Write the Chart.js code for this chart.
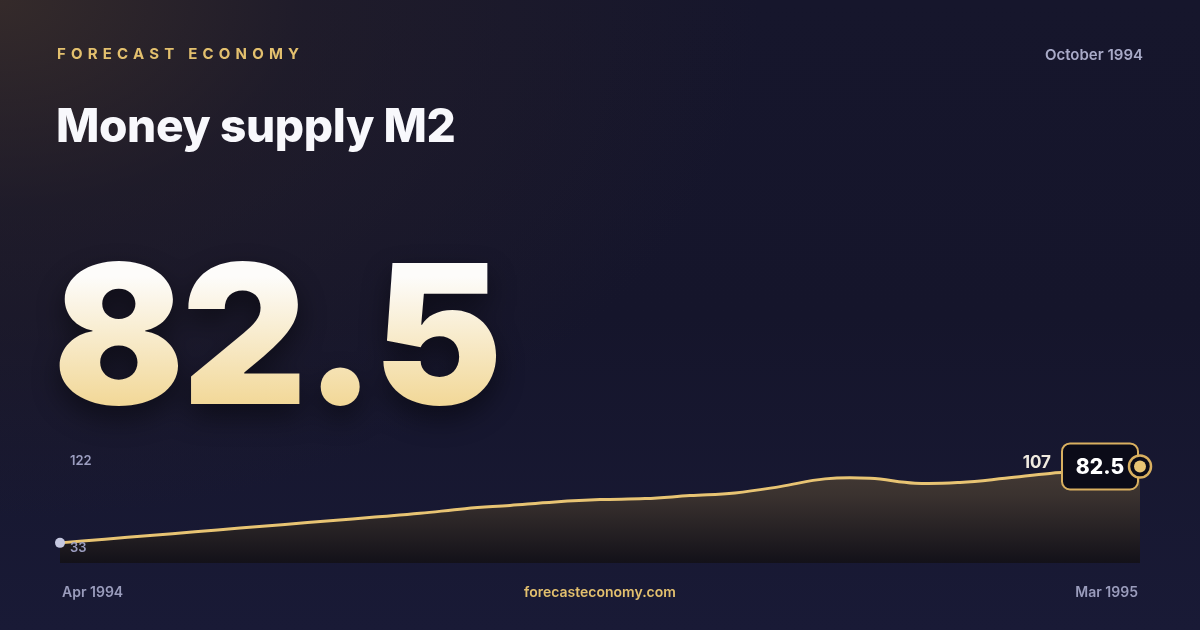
<!DOCTYPE html>
<html>
<head>
<meta charset="utf-8">
<script src="https://cdn.jsdelivr.net/npm/chart.js@4.4.0/dist/chart.umd.min.js"></script>
<style>
  html, body { margin: 0; padding: 0; }
  body {
    width: 1200px; height: 630px; overflow: hidden; position: relative;
    font-family: Inter, "Noto Sans", sans-serif;
    background:
      radial-gradient(ellipse 760px 520px at 0 0, rgba(58,46,42,0.85) 0%, rgba(40,33,40,0.5) 40%, rgba(21,21,42,0) 100%),
      linear-gradient(180deg, #16162c 0%, #15152b 50%, #191a36 100%);
  }
  #chart { position: absolute; left: 0; top: 0; }
  .brand { position: absolute; left: 57px; top: 44px; color: #e3c06e; font-size: 15px; font-weight: 700; letter-spacing: 5.2px; }
  .date { position: absolute; right: 57px; top: 45px; color: #a9abc8; font-size: 15px; font-weight: 600; }
  .title { position: absolute; left: 56px; top: 97px; color: #f8f8fc; font-size: 46px; font-weight: 800; letter-spacing: -0.4px; }
  .big {
    position: absolute; left: 53px; top: 218px; font-size: 194px; font-weight: 900; letter-spacing: -3px; line-height: 1.2;
    background: linear-gradient(180deg, #fdfcfa 25%, #f2d898 80%);
    -webkit-background-clip: text; background-clip: text; color: transparent;
    filter: drop-shadow(0 12px 14px rgba(0,0,0,0.45));
  }
  .foot { position: absolute; top: 583px; font-size: 14px; font-weight: 600; }
  .foot.l { left: 62px; color: #9a9cbc; }
  .foot.c { left: 0; width: 1200px; text-align: center; color: #e3c06e; }
  .foot.r { right: 62px; color: #9a9cbc; }
</style>
</head>
<body>
<canvas id="chart" width="1200" height="630"></canvas>
<div class="brand">FORECAST ECONOMY</div>
<div class="date">October 1994</div>
<div class="title">Money supply M2</div>
<div class="big">82.5</div>
<div class="foot l">Apr 1994</div>
<div class="foot c">forecasteconomy.com</div>
<div class="foot r">Mar 1995</div>
<script>
const labels = [
  'Apr 1994', '', '', '', '', '', '', '', '', '', '', '',
  '', '', '', '', '', '', '', '', '', '', '', '', 'Mar 1995'
];
const values = [
  33, 36.6, 40.2, 43.7, 47.3, 50.9, 54.4, 58.0, 61.6, 66.1, 69.3, 72.6,
  74.9, 75.9, 78.8, 81.4, 87.5, 95.0, 95.5, 90.8, 91.5, 95.5, 100.3, 103.3, 107
];
const axisMin = 13.5;
const axisMax = 122;
const headline = '82.5';
const maxLabel = '122';
const minLabel = '33';

const markers = {
  id: 'markers',
  afterDatasetsDraw(chart) {
    const ctx = chart.ctx;
    const pts = chart.getDatasetMeta(0).data;
    const first = pts[0], last = pts[pts.length - 1];
    const area = chart.chartArea;
    ctx.save();

    // axis extreme labels
    ctx.font = '600 13px Inter';
    ctx.fillStyle = '#9c9ec0';
    ctx.textBaseline = 'middle';
    ctx.textAlign = 'left';
    ctx.fillText(maxLabel, area.left + 10, chart.scales.y.getPixelForValue(axisMax) + 10);
    ctx.fillText(minLabel, area.left + 10, first.y + 5);

    // start dot
    ctx.fillStyle = '#c5c8e0';
    ctx.beginPath(); ctx.arc(first.x, first.y, 5, 0, Math.PI * 2); ctx.fill();

    // last value label
    ctx.font = '700 17px Inter';
    ctx.fillStyle = '#f0ebe0';
    ctx.textAlign = 'right';
    ctx.fillText(String(values[values.length - 1]), last.x - 89, last.y - 4);

    // headline box
    const bx = last.x - 78, by = last.y - 23, bw = 76, bh = 46;
    ctx.beginPath();
    ctx.roundRect(bx, by, bw, bh, 8);
    ctx.fillStyle = '#0b0b18';
    ctx.fill();
    ctx.lineWidth = 2;
    ctx.strokeStyle = '#d9b060';
    ctx.stroke();
    ctx.font = '800 21px Inter';
    ctx.fillStyle = '#ffffff';
    ctx.textAlign = 'center';
    ctx.fillText(headline, bx + 38, last.y + 1);

    // end ring
    ctx.beginPath(); ctx.arc(last.x, last.y, 11, 0, Math.PI * 2);
    ctx.fillStyle = '#0b0b18'; ctx.fill();
    ctx.lineWidth = 2.5; ctx.strokeStyle = '#d9b060'; ctx.stroke();
    ctx.beginPath(); ctx.arc(last.x, last.y, 6, 0, Math.PI * 2);
    ctx.fillStyle = '#e8c473'; ctx.fill();
    ctx.restore();
  }
};

const ctx = document.getElementById('chart').getContext('2d');
new Chart(ctx, {
  type: 'line',
  data: {
    labels: labels,
    datasets: [{
      data: values,
      borderColor: '#e8c473',
      borderWidth: 3,
      pointRadius: 0,
      tension: 0.4,
      fill: 'start',
      backgroundColor: (c) => {
        const a = c.chart.chartArea;
        if (!a) return 'rgba(0,0,0,0)';
        const g = c.chart.ctx.createLinearGradient(0, a.top, 0, a.bottom);
        g.addColorStop(0, '#4a3f38');
        g.addColorStop(0.4, '#3a322f');
        g.addColorStop(1, '#131119');
        return g;
      }
    }]
  },
  options: {
    responsive: false,
    animation: false,
    layout: { padding: { left: 60, right: 60, top: 451, bottom: 67 } },
    plugins: { legend: { display: false }, tooltip: { enabled: false } },
    scales: {
      x: { display: false },
      y: { display: false, min: axisMin, max: axisMax }
    }
  },
  plugins: [markers]
});
</script>
</body>
</html>
